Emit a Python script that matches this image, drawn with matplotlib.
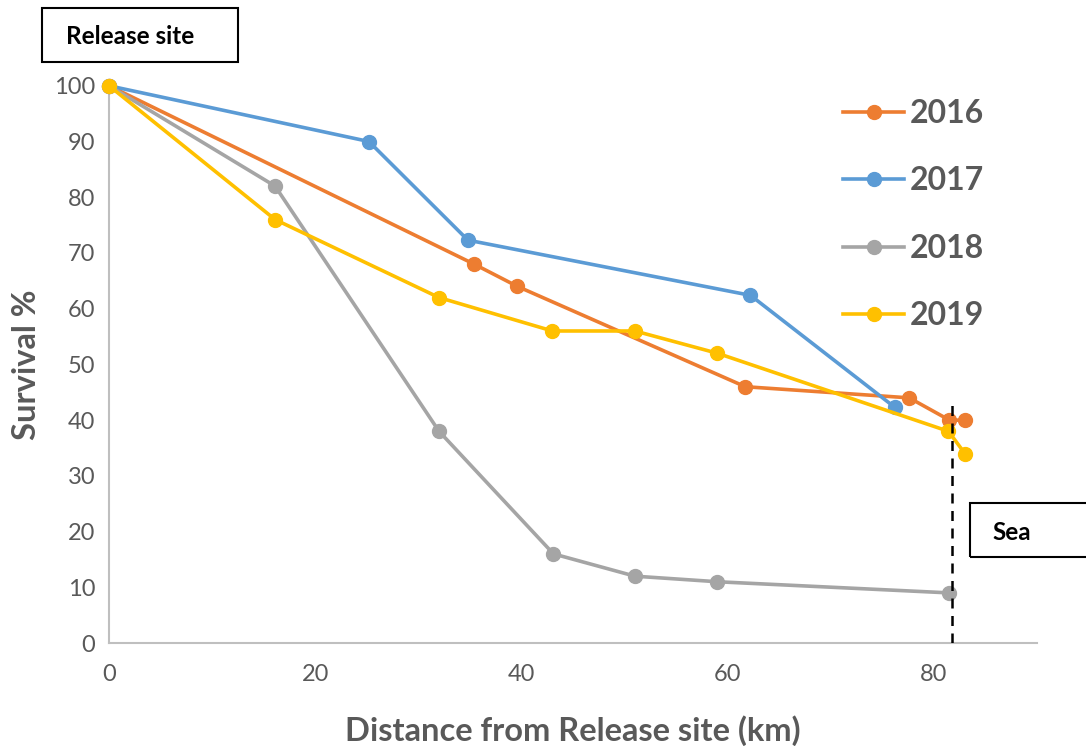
import matplotlib
matplotlib.use("Agg")
import matplotlib.pyplot as plt
from matplotlib.patches import Rectangle

# Survival data per release year (distance in km, survival in %)
years = ["2016", "2017", "2018", "2019"]
dist_2016 = [0, 35.4, 39.6, 61.7, 77.6, 81.5, 83.0]
surv_2016 = [100, 68, 64, 46, 44, 40, 40]
dist_2017 = [0, 25.2, 34.8, 62.2, 76.2]
surv_2017 = [100, 90, 72.3, 62.4, 42.3]
dist_2018 = [0, 16.1, 32.0, 43.1, 51.0, 59.0, 81.5]
surv_2018 = [100, 82, 38, 16, 12, 11, 9]
dist_2019 = [0, 16.1, 32.0, 43.0, 51.0, 59.0, 81.4, 83.0]
surv_2019 = [100, 76, 62, 56, 56, 52, 38, 34]
sea_km = 81.7

x_ticks = [0, 20, 40, 60, 80]
y_ticks = list(range(0, 101, 10))

colors = ["#ED7D31", "#5B9BD5", "#A5A5A5", "#FFC000"]
series = [(dist_2016, surv_2016), (dist_2017, surv_2017),
          (dist_2018, surv_2018), (dist_2019, surv_2019)]

plt.rcParams["font.family"] = ["Lato", "DejaVu Sans"]

fig = plt.figure(figsize=(10.86, 7.46), dpi=100)
ax = fig.add_axes([0.1004, 0.138, 0.8546, 0.747])

# draw 2018 under the others, like the original
order = [2, 0, 1, 3]
for i in order:
    xs, ys = series[i]
    ax.plot(xs, ys, color=colors[i], lw=2.6, marker="o", markersize=10,
            label=years[i], clip_on=False, zorder=3 + i)

ax.axvline(sea_km, ymin=0, ymax=0.43, color="black", ls=(0, (4, 3)), lw=1.8, zorder=10)

ax.set_xlim(0, 90)
ax.set_ylim(0, 100)
ax.set_xticks(x_ticks)
ax.set_yticks(y_ticks)
ax.tick_params(axis="both", length=0, labelsize=17, labelcolor="#595959", pad=10)
ax.tick_params(axis="x", pad=15)

for side in ["top", "right"]:
    ax.spines[side].set_visible(False)
for side in ["left", "bottom"]:
    ax.spines[side].set_color("#BFBFBF")
    ax.spines[side].set_linewidth(1.5)

ax.set_xlabel("Distance from Release site (km)", fontsize=23.5, fontweight="bold",
              color="#595959", labelpad=22)
ax.set_ylabel("Survival %", fontsize=23.5, fontweight="bold", color="#595959", labelpad=9)

handles, labels = ax.get_legend_handles_labels()
hmap = dict(zip(labels, handles))
leg = ax.legend([hmap[y] for y in years], years, loc="upper left",
                bbox_to_anchor=(0.791, 0.976), frameon=False, fontsize=23,
                borderpad=0, borderaxespad=0,
                handlelength=1.9, labelspacing=1.2, handletextpad=0.2)
for t in leg.get_texts():
    t.set_color("#595959")
    t.set_fontweight("bold")

# annotation boxes
fig.patches.append(Rectangle((42 / 1086, 1 - 62 / 746), 196 / 1086, 54 / 746,
                             transform=fig.transFigure, fill=False, ec="black", lw=1.5))
fig.text(66 / 1086, 1 - 37 / 746, "Release site", fontsize=17.5, fontweight="bold",
         va="center", ha="left")
fig.patches.append(Rectangle((970 / 1086, 1 - 557 / 746), 130 / 1086, 54 / 746,
                             transform=fig.transFigure, fill=False, ec="black", lw=1.5))
fig.text(992 / 1086, 1 - 532 / 746, "Sea", fontsize=17.5, fontweight="bold",
         va="center", ha="left")

fig.savefig("out.png", dpi=100)
